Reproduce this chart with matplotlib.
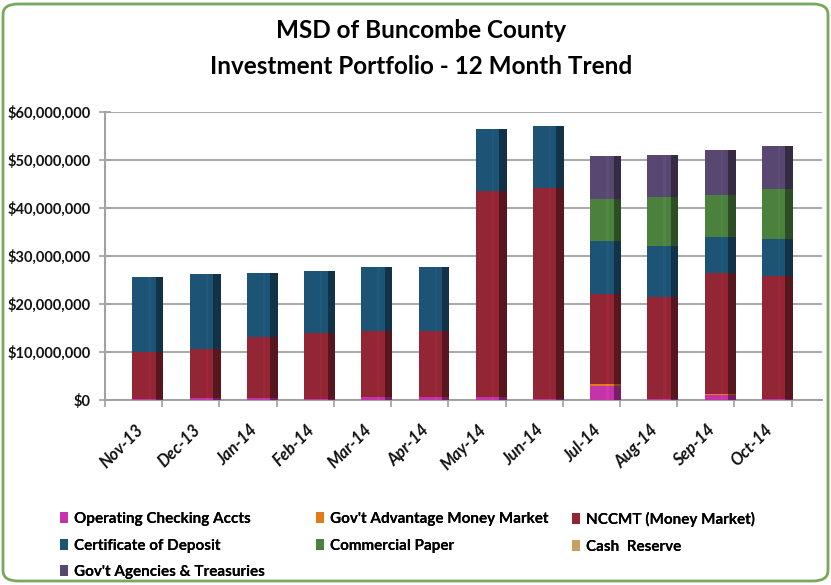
import matplotlib
matplotlib.use("Agg")
import matplotlib.pyplot as plt
import numpy as np
from matplotlib.patches import FancyBboxPatch, Patch
from matplotlib.ticker import FuncFormatter, FixedLocator
import matplotlib.colors as mcolors

months = ["Nov-13", "Dec-13", "Jan-14", "Feb-14", "Mar-14", "Apr-14",
          "May-14", "Jun-14", "Jul-14", "Aug-14", "Sep-14", "Oct-14"]

# values in $ millions
operating_checking = [0.1, 0.3, 0.4, 0.2, 0.6, 0.6, 0.6, 0.1, 2.9, 0.2, 1.0, 0.2]
govt_advantage_mm  = [0.0, 0.0, 0.0, 0.0, 0.0, 0.0, 0.0, 0.0, 0.3, 0.0, 0.2, 0.0]
nccmt              = [9.8, 10.3, 12.7, 13.6, 13.8, 13.8, 42.9, 44.1, 18.9, 21.1, 25.1, 25.5]
cert_of_deposit    = [15.7, 15.6, 13.2, 13.1, 13.3, 13.3, 13.0, 12.9, 10.9, 10.8, 7.6, 7.7]
commercial_paper   = [0, 0, 0, 0, 0, 0, 0, 0, 8.9, 10.1, 8.8, 10.6]
cash_reserve       = [0, 0, 0, 0, 0, 0, 0, 0, 0, 0, 0, 0]
govt_agencies      = [0, 0, 0, 0, 0, 0, 0, 0, 9.0, 8.9, 9.3, 9.0]

series_names = ["Operating Checking Accts", "Gov't Advantage Money Market",
                "NCCMT (Money Market)", "Certificate of Deposit",
                "Commercial Paper", "Cash  Reserve", "Gov't Agencies & Treasuries"]
series_vals = [operating_checking, govt_advantage_mm, nccmt, cert_of_deposit,
               commercial_paper, cash_reserve, govt_agencies]
series_colors = ["#C434A8", "#E07B1A", "#922634", "#1D5476",
                 "#4B803D", "#C8A064", "#584871"]

main = "Lato"

W, H = 831, 585
fig = plt.figure(figsize=(W / 100, H / 100), dpi=100)

# border
border = FancyBboxPatch((3 / W, 4 / H), 825 / W, 577 / H,
                        boxstyle="round,pad=0,rounding_size=0.018",
                        transform=fig.transFigure, fill=False,
                        edgecolor="#78A85C", linewidth=2)
fig.patches.append(border)

left, right, top, bottom = 105, 822, 112, 399.5
ax = fig.add_axes([left / W, 1 - bottom / H, (right - left) / W, (bottom - top) / H])

x = np.arange(len(months))
bar_x = x + 0.25
bw = 0.54
base = np.zeros(len(months))
handles = []
for name, vals, col in zip(series_names, series_vals, series_colors):
    v = np.array(vals, dtype=float)
    ax.bar(bar_x, v, bw, bottom=base, color=col, edgecolor="none", zorder=3)
    dark = np.array(mcolors.to_rgb(col)) * 0.6
    light = np.clip(np.array(mcolors.to_rgb(col)) * 1.2, 0, 1)
    # right-side shade strip (3D look)
    ax.bar(bar_x + bw / 2 - 0.065, v, 0.13, bottom=base, color=dark,
           edgecolor="none", zorder=4)
    ax.bar(bar_x + 0.03, v, 0.04, bottom=base, color=light, alpha=0.35,
           edgecolor="none", zorder=4)
    base += v
    handles.append(Patch(facecolor=col, edgecolor="none", label=name))

ax.set_xlim(-0.5, 12.03)
ax.set_ylim(0, 60)
ax.yaxis.set_major_locator(FixedLocator(np.arange(0, 61, 10)))
ax.yaxis.set_major_formatter(FuncFormatter(
    lambda v, p: "$0" if v == 0 else "${:,.0f}".format(v * 1e6)))
ax.grid(axis="y", color="#ABABAB", linewidth=1.5, zorder=0)
ax.set_axisbelow(True)
for s in ["top", "right"]:
    ax.spines[s].set_visible(False)
for s in ["left", "bottom"]:
    ax.spines[s].set_color("#A0A0A0")
    ax.spines[s].set_linewidth(1.4)

ax.set_xticks(x + 0.02)
ax.set_xticklabels(months, rotation=45, ha="right", rotation_mode="anchor",
                   fontsize=12, fontweight="bold", fontstyle="italic",
                   family=main, color="#111111")
ax.tick_params(axis="x", length=0, pad=16)
ax.set_xticks(np.arange(-0.5, 12, 1), minor=True)
ax.tick_params(axis="x", which="minor", length=5, color="#A0A0A0", width=1.2)
ax.tick_params(axis="y", direction="inout", length=9, color="#A0A0A0",
               width=1.2, pad=6)
for lab in ax.get_yticklabels():
    lab.set_fontsize(10.5)
    lab.set_fontweight("bold")
    lab.set_family(main)
    lab.set_color("#111111")

fig.text(421 / W, 1 - 30 / H, "MSD of Buncombe County", ha="center",
         va="center", fontsize=17.5, fontweight="bold", family=main)
fig.text(421 / W, 1 - 66 / H, "Investment Portfolio - 12 Month Trend",
         ha="center", va="center", fontsize=17.5, fontweight="bold", family=main)

columns = [([0, 3, 6], 60), ([1, 4], 316), ([2, 5], 572)]
for idxs, xpx in columns:
    lg = fig.legend([handles[i] for i in idxs], [series_names[i] for i in idxs],
                    loc="upper left", bbox_to_anchor=(xpx / W, 1 - 512 / H),
                    frameon=False, borderpad=0, borderaxespad=0,
                    handlelength=0.5, handleheight=0.75, handletextpad=0.4,
                    labelspacing=0.82,
                    prop={"family": main, "weight": "bold", "size": 11})
    fig.add_artist(lg)

fig.savefig("out.png", dpi=100)
